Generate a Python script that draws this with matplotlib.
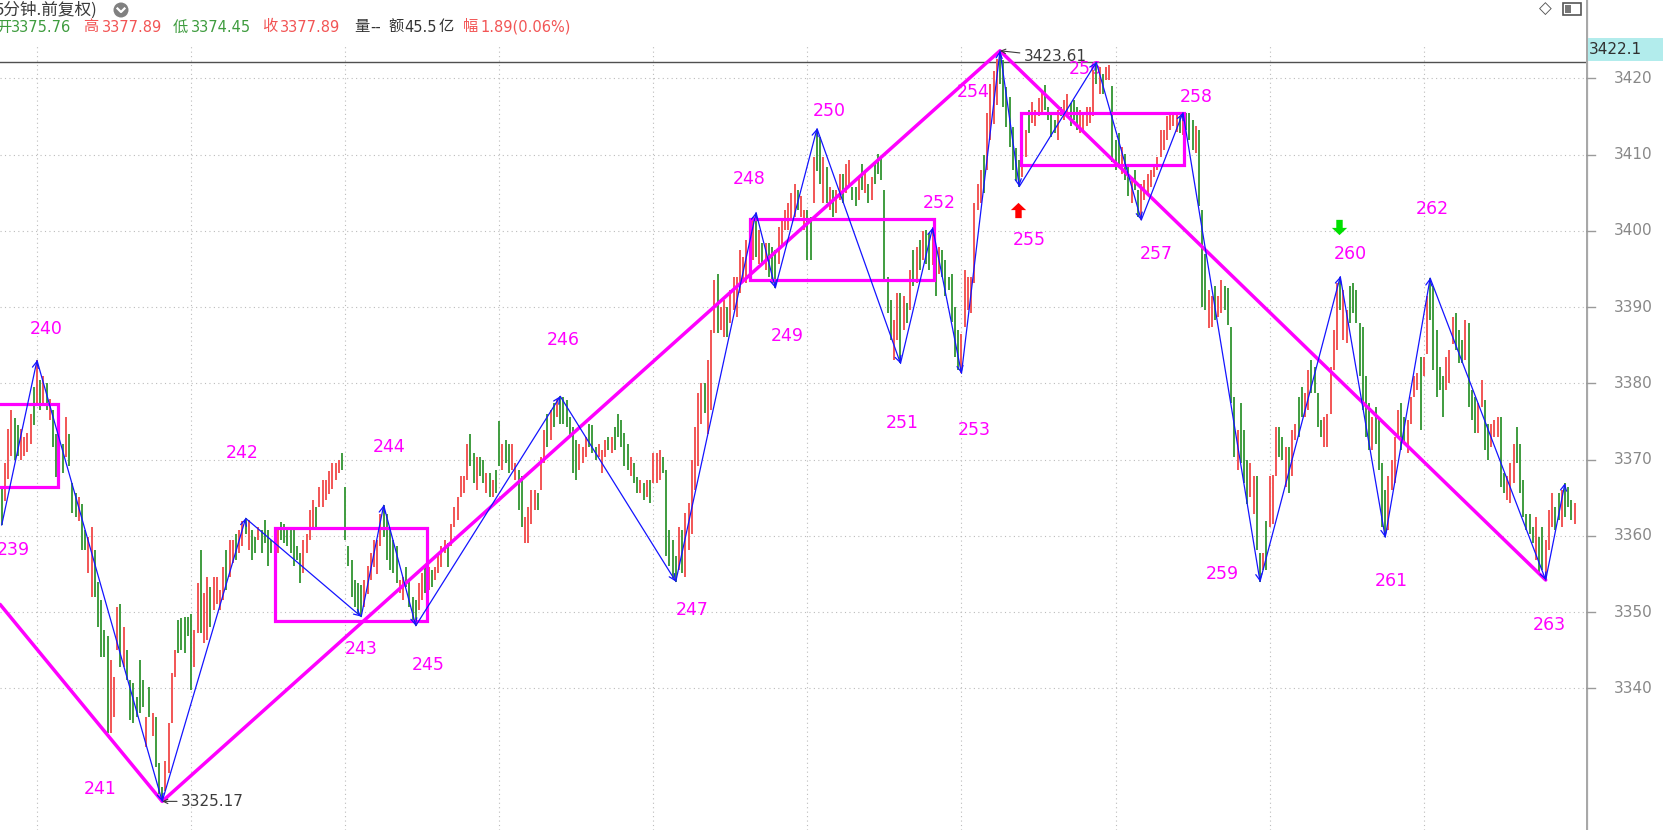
import matplotlib
matplotlib.use("Agg")
import matplotlib.pyplot as plt
from matplotlib.patches import Rectangle, Ellipse
from matplotlib.lines import Line2D
from matplotlib.path import Path
import numpy as np

# ---------------------------------------------------------------- data
# 5-minute bars: direction (r = up / red, g = down / green), low, high
bar_dir = ("grrrggrrrrgr"
           "grgrggrgrg" "ggrggrrggg" "ggrrrgrggg" "gggrgrggg"
           "rrrrgggggr" "rgrrgrrrrg" "rrgrrg"
           "rggrggggrr" "gggggggrrr" "rgrrrrrrrg" "gggggg"
           "rrrrrrg"
           "ggggrrgggg"
           "rrgrgrrrrg" "rrrrrrggrg" "grgrggrggr" "rggrrrrgrr" "grgrg"
           "gggggrrrgg" "grrrgrgggg" "grggrgrgrr" "rggggg"
           "rgrrrrrrgr" "rrgrrgrrrr" "rrgrg"
           "rgrggg"
           "rrrrrrgrrggrg"
           "grgrgrrgrr" "ggrgrgrggg" "gggrrg"
           "rgrgrgrggr"
           "grggggggr"
           "rrrrrrgrrrrg"
           "gggggg"
           "rrgrrrrggg" "grgrrgggrr" "rrrg"
           "rgrrgggrgg" "rggr"
           "rrrrrrrrrrrgr"
           "gggrgggrrg" "rrggggrggg" "rrgg"
           "rgrrrggrgr" "rggrrggggr" "rrrrg"
           "rrgggggggrgggg"
           "rrrrggrrrrgrrg"
           "ggggrrrggg" "rgggrrggrr" "rggrrrgggg" "ggrggr"
           "rrggrgggr")

bar_low = [
    3361.4, 3364.5, 3367.5, 3370.5, 3370.0, 3370.5, 3370.0, 3370.5, 3371.0, 3372.0, 3374.5, 3377.0,
    3376.5, 3377.0, 3376.5, 3375.2, 3371.7, 3367.7, 3367.7, 3368.2, 3370.4, 3369.1,
    3363.0, 3362.5, 3362.0, 3358.1, 3358.1, 3355.1, 3352.0, 3352.0, 3348.0, 3344.1,
    3344.1, 3334.1, 3334.1, 3336.3, 3345.0, 3342.8, 3342.8, 3341.1, 3335.8, 3335.4,
    3336.3, 3336.7, 3337.6, 3332.3, 3336.3, 3333.7, 3329.7, 3326.2, 3325.17,
    3326.5, 3328.9, 3335.4, 3341.5, 3344.6, 3345.0, 3344.6, 3346.8, 3339.8, 3342.8,
    3347.2, 3347.2, 3345.9, 3346.3, 3348.1, 3350.3, 3351.1, 3350.3, 3351.6, 3352.9,
    3354.6, 3356.4, 3356.8, 3357.7, 3358.6, 3360.3,
    3358.1, 3356.8, 3357.7, 3359.4, 3357.7, 3359.0, 3356.0, 3357.7, 3356.8, 3357.7,
    3359.5, 3359.0, 3358.6, 3357.7, 3356.0, 3356.8, 3353.8, 3355.1, 3357.7, 3359.4,
    3361.2, 3360.7, 3363.8, 3363.8, 3364.7, 3365.5, 3366.2, 3367.3, 3368.2, 3368.6,
    3359.4, 3356.0, 3352.0, 3350.7, 3349.8, 3349.4,
    3350.7, 3352.4, 3354.2, 3355.9, 3355.0, 3358.6, 3359.9,
    3356.8, 3355.5, 3355.1, 3353.8, 3352.5, 3351.6, 3353.3, 3350.7, 3348.9, 3348.2,
    3350.3, 3351.6, 3352.5, 3352.9, 3353.3, 3354.2, 3355.1, 3355.9, 3357.7, 3355.9,
    3358.6, 3361.2, 3362.1, 3365.1, 3365.6, 3367.3, 3369.1, 3366.9, 3366.0, 3367.8,
    3366.9, 3365.6, 3365.1, 3365.1, 3365.6, 3369.1, 3368.6, 3369.5, 3368.2, 3368.6,
    3367.3, 3363.4, 3361.2, 3359.0, 3359.0, 3361.6, 3363.4, 3363.4, 3366.0, 3369.5,
    3371.7, 3372.6, 3374.3, 3375.6, 3374.7,
    3374.7, 3374.3, 3373.0, 3368.2, 3367.3, 3368.6, 3369.5, 3370.4, 3371.7, 3370.8,
    3370.0, 3370.4, 3368.2, 3370.4, 3371.3, 3370.8, 3371.3, 3373.0, 3371.7, 3369.1,
    3368.6, 3367.8, 3366.9, 3365.6, 3365.6, 3364.7, 3365.1, 3364.3, 3366.9, 3366.9,
    3367.3, 3368.2, 3357.3, 3356.0, 3354.5, 3354.0,
    3355.5, 3355.1, 3354.6, 3358.1, 3360.3, 3366.0, 3369.1, 3374.7, 3376.1, 3373.4,
    3376.5, 3386.6, 3386.6, 3387.0, 3386.1, 3386.1, 3387.9, 3389.6, 3388.7, 3391.8,
    3393.5, 3393.1, 3394.8, 3396.2, 3396.6,
    3395.7, 3395.7, 3394.8, 3393.9, 3393.1, 3392.5,
    3395.7, 3397.9, 3400.1, 3400.1, 3401.4, 3401.8, 3402.7, 3401.8, 3400.1, 3396.2,
    3396.2, 3403.6, 3407.9,
    3406.2, 3403.6, 3403.6, 3402.7, 3401.8, 3402.3, 3404.0, 3403.6, 3404.9, 3405.8,
    3404.0, 3403.2, 3404.0, 3405.3, 3404.9, 3403.6, 3404.0, 3406.2, 3407.5, 3406.6,
    3393.5, 3389.2, 3385.7, 3383.0, 3385.7, 3382.6,
    3387.0, 3387.9, 3389.6, 3392.7, 3393.1, 3394.8, 3396.2, 3395.7, 3394.8, 3395.5,
    3391.4, 3394.4, 3393.9, 3391.4, 3392.2, 3388.0, 3383.5, 3381.8, 3381.3,
    3387.4, 3389.6, 3389.2, 3393.1, 3402.7, 3403.6, 3405.0, 3408.0, 3411.9, 3414.0,
    3416.5, 3419.3,
    3416.3, 3413.6, 3411.0, 3408.0, 3406.5, 3405.8,
    3407.1, 3409.7, 3412.8, 3414.1, 3413.7, 3415.0, 3415.4, 3415.8, 3414.5, 3412.3,
    3412.8, 3411.9, 3415.0, 3414.5, 3415.0, 3413.7, 3414.5, 3413.2, 3412.8, 3413.2,
    3413.7, 3414.1, 3415.0, 3419.3,
    3418.0, 3418.0, 3419.8, 3419.8, 3409.0, 3408.0, 3408.4, 3407.5, 3406.6, 3404.5,
    3403.6, 3405.3, 3401.8, 3401.4,
    3404.0, 3404.9, 3405.8, 3407.1, 3408.0, 3409.7, 3410.6, 3411.9, 3413.2, 3413.7,
    3413.0, 3412.8, 3412.5,
    3413.2, 3411.9, 3410.6, 3410.2, 3403.2, 3390.0, 3389.6, 3387.2, 3387.4, 3388.3,
    3388.7, 3389.2, 3389.6, 3387.7, 3377.4, 3370.4, 3368.6, 3369.5, 3366.9, 3364.2,
    3365.1, 3362.9, 3358.1, 3354.0,
    3355.5, 3355.5, 3361.2, 3361.5, 3367.8, 3370.4, 3369.9, 3366.4, 3365.6, 3367.8,
    3372.6, 3373.0, 3375.6, 3375.6, 3376.5, 3378.7, 3378.7, 3374.3, 3373.0, 3371.7,
    3371.7, 3376.0, 3381.7, 3384.4, 3389.6,
    3385.7, 3385.3, 3387.9, 3389.2, 3387.9, 3380.9, 3376.5, 3373.0, 3371.3, 3371.3,
    3372.1, 3368.6, 3361.2, 3359.8,
    3360.8, 3366.0, 3366.9, 3373.0, 3371.3, 3372.1, 3370.8, 3374.7, 3378.2, 3379.1,
    3373.9, 3380.9, 3383.9, 3388.3,
    3381.7, 3378.2, 3379.1, 3375.6, 3379.1, 3380.0, 3385.2, 3384.4, 3382.6, 3382.6,
    3383.0, 3376.9, 3375.2, 3373.5, 3373.5, 3376.9, 3371.3, 3369.9, 3371.7, 3373.0,
    3373.0, 3366.4, 3365.6, 3364.7, 3364.3, 3366.9, 3369.5, 3365.6, 3362.5, 3360.8,
    3360.3, 3359.0, 3356.8, 3355.1, 3355.5, 3354.2,
    3358.1, 3361.2, 3360.8, 3362.1, 3361.2, 3362.5, 3363.8, 3362.1, 3361.6,
]

bar_high = [
    3366.5, 3369.5, 3374.0, 3376.5, 3375.5, 3374.5, 3374.0, 3373.0, 3373.5, 3376.0, 3379.5, 3383.0,
    3380.4, 3381.0, 3380.0, 3378.0, 3376.5, 3373.4, 3372.5, 3372.1, 3375.6, 3373.4,
    3366.9, 3365.6, 3365.1, 3364.2, 3360.7, 3359.9, 3361.2, 3358.1, 3354.0, 3351.6,
    3347.6, 3346.8, 3343.7, 3341.5, 3350.7, 3351.1, 3348.1, 3345.0, 3341.1, 3340.7,
    3338.9, 3343.7, 3341.1, 3336.3, 3340.2, 3336.7, 3336.3, 3330.2, 3327.0,
    3330.5, 3335.4, 3342.0, 3345.0, 3349.0, 3349.2, 3349.4, 3349.4, 3349.8, 3347.6,
    3353.8, 3358.1, 3352.5, 3354.6, 3353.3, 3354.6, 3354.6, 3352.9, 3355.9, 3358.1,
    3359.4, 3359.4, 3360.3, 3360.7, 3362.0, 3362.3,
    3362.1, 3360.7, 3359.9, 3361.2, 3360.7, 3362.1, 3360.7, 3359.4, 3360.3, 3361.2,
    3361.8, 3361.5, 3360.7, 3360.7, 3360.7, 3358.6, 3357.7, 3359.4, 3360.3, 3363.4,
    3364.7, 3363.8, 3366.4, 3367.3, 3367.3, 3368.5, 3369.5, 3369.5, 3370.0, 3370.8,
    3366.4, 3358.6, 3356.8, 3354.2, 3353.8, 3353.5,
    3354.2, 3356.0, 3357.7, 3359.4, 3359.4, 3362.9, 3364.0,
    3362.9, 3360.7, 3359.4, 3358.6, 3354.2, 3354.6, 3355.9, 3354.2, 3352.0, 3351.6,
    3353.8, 3355.1, 3355.9, 3355.9, 3355.5, 3355.9, 3357.7, 3358.6, 3359.4, 3359.0,
    3361.6, 3363.8, 3365.1, 3367.8, 3367.8, 3372.1, 3373.4, 3370.8, 3370.4, 3370.4,
    3369.9, 3368.2, 3368.2, 3367.3, 3368.6, 3375.0, 3372.1, 3372.6, 3372.1, 3372.1,
    3369.5, 3368.6, 3367.8, 3362.5, 3363.8, 3366.0, 3366.0, 3365.6, 3370.4, 3373.9,
    3376.0, 3376.5, 3377.4, 3378.0, 3378.3,
    3378.2, 3377.8, 3375.6, 3374.3, 3372.6, 3372.1, 3371.7, 3373.0, 3374.7, 3374.5,
    3371.7, 3372.1, 3371.2, 3372.5, 3373.0, 3373.0, 3374.3, 3376.0, 3375.2, 3373.5,
    3372.1, 3370.4, 3369.5, 3367.7, 3367.3, 3366.9, 3367.3, 3367.3, 3370.8, 3370.8,
    3371.2, 3370.4, 3368.6, 3360.8, 3359.4, 3357.3,
    3361.2, 3360.8, 3363.0, 3364.3, 3369.9, 3374.3, 3378.7, 3380.0, 3380.0, 3383.1,
    3387.0, 3393.5, 3394.4, 3390.0, 3390.9, 3390.0, 3392.2, 3394.0, 3394.0, 3397.5,
    3396.6, 3398.8, 3400.1, 3401.8, 3402.4,
    3400.1, 3398.4, 3398.4, 3398.4, 3397.9, 3397.5,
    3400.5, 3401.4, 3402.7, 3403.6, 3404.9, 3406.2, 3405.3, 3404.5, 3402.7, 3402.7,
    3401.8, 3409.7, 3413.4,
    3412.3, 3409.7, 3408.4, 3405.8, 3405.3, 3405.3, 3407.5, 3407.5, 3408.8, 3409.3,
    3405.8, 3405.8, 3407.1, 3408.8, 3408.0, 3406.2, 3407.1, 3408.8, 3410.1, 3409.7,
    3405.3, 3394.0, 3390.9, 3388.3, 3391.8, 3391.8,
    3391.4, 3390.5, 3394.8, 3397.5, 3397.9, 3398.8, 3400.0, 3400.1, 3399.7, 3400.4,
    3397.9, 3397.9, 3397.5, 3396.2, 3394.0, 3394.4, 3390.0, 3387.0, 3386.5,
    3394.8, 3393.9, 3393.9, 3403.6, 3406.2, 3408.0, 3410.0, 3415.4, 3419.3, 3421.0,
    3422.5, 3423.61,
    3422.4, 3418.9, 3417.6, 3413.6, 3410.8, 3409.3,
    3411.5, 3413.2, 3415.8, 3416.9, 3415.8, 3417.4, 3418.5, 3419.1, 3416.3, 3415.4,
    3414.5, 3415.8, 3416.3, 3417.2, 3418.0, 3416.7, 3417.2, 3416.3, 3415.8, 3415.4,
    3416.3, 3416.3, 3421.1, 3422.1,
    3421.5, 3420.6, 3421.5, 3421.7, 3419.0, 3411.9, 3412.8, 3411.0, 3410.1, 3408.8,
    3407.1, 3408.0, 3405.3, 3406.2,
    3406.6, 3407.5, 3408.0, 3408.8, 3409.7, 3413.2, 3413.2, 3415.0, 3415.4, 3415.3,
    3415.2, 3415.0, 3415.5,
    3415.4, 3415.4, 3414.5, 3413.7, 3413.2, 3402.7, 3397.0, 3392.2, 3391.4, 3392.7,
    3391.4, 3393.5, 3392.7, 3392.5, 3387.4, 3378.2, 3373.9, 3377.4, 3373.9, 3369.9,
    3369.5, 3367.8, 3367.8, 3357.7,
    3357.7, 3362.0, 3367.8, 3368.0, 3374.3, 3374.3, 3373.0, 3371.7, 3371.7, 3373.9,
    3374.7, 3378.2, 3379.5, 3378.7, 3381.7, 3383.0, 3382.2, 3378.7, 3375.2, 3375.6,
    3376.0, 3382.2, 3387.0, 3393.1, 3394.0,
    3392.2, 3389.6, 3392.7, 3393.1, 3392.2, 3387.9, 3387.4, 3380.9, 3377.4, 3375.6,
    3376.9, 3375.6, 3369.5, 3366.0,
    3367.8, 3369.9, 3373.0, 3376.5, 3377.4, 3375.6, 3375.2, 3378.2, 3380.9, 3381.3,
    3383.5, 3383.5, 3391.4, 3393.8,
    3392.7, 3387.0, 3382.2, 3380.9, 3383.5, 3384.4, 3388.7, 3389.2, 3387.0, 3385.7,
    3388.3, 3387.9, 3379.1, 3378.2, 3377.4, 3380.4, 3377.8, 3374.7, 3374.7, 3375.2,
    3375.6, 3375.6, 3368.2, 3367.8, 3369.5, 3372.1, 3374.3, 3372.1, 3367.3, 3362.9,
    3362.9, 3361.2, 3362.5, 3359.9, 3361.2, 3359.4,
    3363.4, 3365.6, 3363.8, 3365.6, 3366.0, 3366.9, 3366.4, 3364.7, 3364.3,
]

# zig-zag stroke pivots (bar index, price, label)
piv_idx = [0, 11, 50, 76, 112, 119, 129, 174, 210, 235, 241, 254, 280,
           290, 299, 311, 317, 341, 355, 368, 392, 417, 431, 445, 481, 487]
piv_val = [3361.4, 3383.0, 3325.17, 3362.3, 3349.4, 3364.0, 3348.2, 3378.3,
           3354.0, 3402.4, 3392.5, 3413.4, 3382.6, 3400.4, 3381.3, 3423.61,
           3405.8, 3422.1, 3401.4, 3415.5, 3354.0, 3394.0, 3359.8, 3393.8,
           3354.2, 3366.9]
piv_name = [str(n) for n in range(239, 264)] + [""]
# label offsets from the pivot, in pixels
label_dx = [12, 9, -62, -3, 0, 5, 12, 3, 16, -7, 12, 12, 2, 7, 13, -27, 10,
            -11, 15, 13, -38, 10, 6, 2, 4]
label_dy = [-25, 31, 12, 65, -32, 58, -39, 56, -28, 34, -48, 18, -60, 25, -57,
            -41, -53, -7, -34, 16, 8, 23, -44, 69, -45]

# higher-level segments (magenta)
seg_idx = [-0.5, 50, 311, 481]
seg_val = [3351.0, 3325.17, 3423.61, 3354.2]

# pivot zones (boxes)
zone_x0 = [-3, 85.2, 233.1, 317.5]
zone_x1 = [17.6, 132.5, 290.4, 368.4]
zone_lo = [3366.4, 3348.8, 3393.5, 3408.6]
zone_hi = [3377.3, 3361.0, 3401.6, 3415.5]

# buy / sell signals
sig_idx = [316.5, 416.5]
sig_val = [3402.7, 3400.5]
sig_kind = ["buy", "sell"]

# extreme annotations
ext_idx = [311, 50]
ext_val = [3423.61, 3325.17]

price_ticks = [3340, 3350, 3360, 3370, 3380, 3390, 3400, 3410, 3420]
last_price = 3422.1

hdr_title = "5分钟.前复权)"
hdr_names = ["开", "高", "低", "收"]
hdr_values = ["3375.76", "3377.89", "3374.45", "3377.89"]
hdr_vol = "量--"
hdr_amount = "额45.5亿"
hdr_change = "幅1.89(0.06%)"

# ---------------------------------------------------------------- layout
W, H = 1663, 830
AX_R = 1586
X0_PX, PX_PER_BAR = 1.69, 3.21
Y_REF_PX, PX_PER_PT = 78.3, 7.625

RED = "#f25555"
GREEN = "#3f9c3f"
MAG = "#ff00ff"
BLUE = "#1414ff"
CJK = ["Noto Sans CJK SC", "DejaVu Sans"]
LAT = ["DejaVu Sans", "Noto Sans CJK SC"]


def px2i(px):
    return (px - X0_PX) / PX_PER_BAR


def py2p(py):
    return 3420 - (py - Y_REF_PX) / PX_PER_PT


def fx(px):
    return px / W


def fy(py):
    return 1 - py / H


fig = plt.figure(figsize=(W / 100, H / 100), dpi=100)
fig.patch.set_facecolor("white")
ax = fig.add_axes([0, 0, AX_R / W, 1])
ax.set_xlim(px2i(0), px2i(AX_R))
ax.set_ylim(py2p(H), py2p(0))
ax.axis("off")

# grid
for p in price_ticks:
    ax.axhline(p, color="#bcbcbc", lw=0.8, ls=(0, (1, 3)), zorder=0)
n = min(len(bar_dir), len(bar_low), len(bar_high))
for i in range(11, n, 48):
    ax.axvline(i, ymax=(H - 45) / H, color="#bcbcbc", lw=0.8, ls=(0, (1, 3)), zorder=0)

ax.axhline(last_price, color="#505050", lw=1.0, zorder=1)

# bars
xs = np.arange(n)
cols = [RED if c == "r" else GREEN for c in bar_dir[:n]]
ax.vlines(xs, bar_low[:n], bar_high[:n], colors=cols, lw=1.4, zorder=2)

# zones
for x0, x1, lo, hi in zip(zone_x0, zone_x1, zone_lo, zone_hi):
    ax.add_patch(Rectangle((x0, lo), x1 - x0, hi - lo, fill=False,
                           edgecolor=MAG, lw=2.3, zorder=3))

# higher-level segments
ax.plot(seg_idx, seg_val, color=MAG, lw=2.5, zorder=3, solid_capstyle="round")

# strokes
for k in range(len(piv_idx) - 1):
    ax.annotate("", xy=(piv_idx[k + 1], piv_val[k + 1]),
                xytext=(piv_idx[k], piv_val[k]),
                arrowprops=dict(arrowstyle="->", color=BLUE, lw=0.9,
                                shrinkA=0, shrinkB=0, mutation_scale=11),
                zorder=4)

# stroke labels
for k, name in enumerate(piv_name):
    if not name:
        continue
    ax.annotate(name, xy=(piv_idx[k], piv_val[k]),
                xytext=(label_dx[k], label_dy[k]), textcoords="offset pixels",
                ha="center", va="center", color=MAG, fontsize=12.5,
                family=LAT, zorder=1.5)

# extreme value annotations (text with a small pointer back to the extreme)
for xi, v, ox, oy in zip(ext_idx, ext_val, [24, 19], [-6, 0]):
    ax.annotate(f"{v:.2f}", xy=(xi, v), xytext=(ox, oy),
                textcoords="offset pixels", ha="left", va="center",
                color="#3c3c3c", fontsize=11, family=LAT, zorder=5,
                arrowprops=dict(arrowstyle="->", color="#3c3c3c", lw=0.8,
                                shrinkA=1, shrinkB=0, mutation_scale=8))

# signal arrows
up_arrow = Path([(0, 1), (-1, 0.05), (-0.42, 0.05), (-0.42, -1), (0.42, -1),
                 (0.42, 0.05), (1, 0.05), (0, 1)],
                [Path.MOVETO] + [Path.LINETO] * 6 + [Path.CLOSEPOLY])
down_arrow = Path([(x, -y) for x, y in up_arrow.vertices], up_arrow.codes)
for xi, v, kind in zip(sig_idx, sig_val, sig_kind):
    ax.plot([xi], [v], marker=up_arrow if kind == "buy" else down_arrow,
            markersize=11, color="#ff0000" if kind == "buy" else "#00e000",
            markeredgewidth=0, zorder=5)

# right price axis
ax2 = fig.add_axes([AX_R / W, 0, 1 - AX_R / W, 1])
ax2.set_xlim(0, W - AX_R)
ax2.set_ylim(py2p(H), py2p(0))
ax2.axis("off")
ax2.axvline(0.8, color="#a8a8a8", lw=1.6)
for p in price_ticks:
    ax2.plot([0, 9], [p, p], color="#9a9a9a", lw=1.0)
    ax2.text(47, p, f"{p}", ha="center", va="center", color="#888888",
             fontsize=11, family=LAT)
box_lo = last_price + 0.2
box_h = 22.5 / PX_PER_PT
ax2.add_patch(Rectangle((1.5, box_lo), W - AX_R, box_h, facecolor="#b2ecec",
                        edgecolor="none", zorder=3))
ax2.text(3, box_lo + box_h / 2, f"{last_price}", ha="left", va="center",
         color="#303030", fontsize=11, family=LAT, zorder=4)

# header
fig.text(fx(-5), fy(10), hdr_title, fontsize=12, family=CJK, color="#3a3a3a",
         ha="left", va="center")
fig.add_artist(Ellipse((fx(121), fy(10)), 15 / W, 15 / H, transform=fig.transFigure,
                       facecolor="#808080", edgecolor="none"))
fig.add_artist(Line2D([fx(117.5), fx(121), fx(124.5)], [fy(8.5), fy(12), fy(8.5)],
                      transform=fig.transFigure, color="white", lw=1.6))

name_x = [-4, 83, 173, 262]
value_x = [11, 102, 191, 280]
name_col = [GREEN, RED, GREEN, RED]
for nm, val, nx, vx, c in zip(hdr_names, hdr_values, name_x, value_x, name_col):
    fig.text(fx(nx), fy(27), nm, fontsize=11, family=CJK, color=c, ha="left", va="center")
    fig.text(fx(vx), fy(27), val, fontsize=10.5, family=LAT, color=c, ha="left", va="center")
fig.text(fx(354), fy(27), hdr_vol[0], fontsize=11, family=CJK, color="#333333", ha="left", va="center")
fig.text(fx(370), fy(27), hdr_vol[1:], fontsize=10.5, family=LAT, color="#333333", ha="left", va="center")
fig.text(fx(388), fy(27), hdr_amount[0], fontsize=11, family=CJK, color="#333333", ha="left", va="center")
fig.text(fx(404), fy(27), hdr_amount[1:-1], fontsize=10.5, family=LAT, color="#333333", ha="left", va="center")
fig.text(fx(439), fy(27), hdr_amount[-1], fontsize=11, family=CJK, color="#333333", ha="left", va="center")
fig.text(fx(463), fy(27), hdr_change[0], fontsize=11, family=CJK, color=RED, ha="left", va="center")
fig.text(fx(480), fy(27), hdr_change[1:], fontsize=10.5, family=LAT, color=RED, ha="left", va="center")

# top-right icons
fig.text(fx(1545), fy(9), "\u25c7", fontsize=12, family=LAT, color="#555555",
         ha="center", va="center")
fig.add_artist(Rectangle((fx(1563), fy(15)), 18 / W, 12 / H, transform=fig.transFigure,
                         facecolor="white", edgecolor="#555555", lw=1.2))
fig.add_artist(Rectangle((fx(1565), fy(13)), 6 / W, 8 / H, transform=fig.transFigure,
                         facecolor="#777777", edgecolor="none"))

fig.savefig("out.png", dpi=100, facecolor="white")
